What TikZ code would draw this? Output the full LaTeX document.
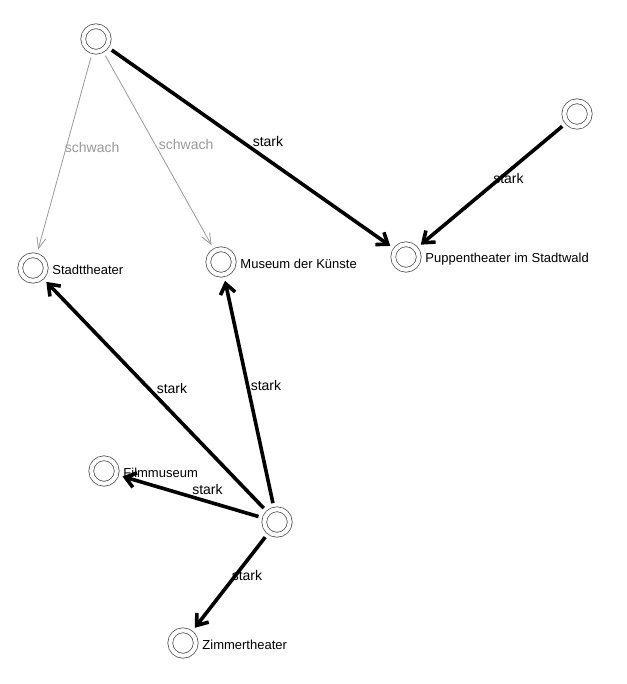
\documentclass[tikz,border=0pt]{standalone}
\usepackage{fontspec}
\setmainfont{Liberation Sans}
\usetikzlibrary{arrows.meta}
\definecolor{weakgray}{HTML}{999999}
\definecolor{ringgray}{HTML}{444444}

\begin{document}
\begin{tikzpicture}[x=1pt,y=-1pt,
  every label/.append style={inner sep=0pt,font=\fontsize{13}{15}\selectfont,yshift=-2pt},
  venue/.style={circle,draw=ringgray,double,double distance=4.1pt,line width=0.7pt,
    minimum size=25.5pt,inner sep=0pt,outer sep=6.5pt,label distance=2.5pt},
  strong/.style={line width=3.6pt,-{Straight Barb[length=10pt,width=15pt]}},
  weak/.style={line width=0.8pt,weakgray,-{Straight Barb[length=11pt,width=9pt]}},
  lbl/.style={midway,anchor=south west,inner sep=0pt,font=\fontsize{14}{16}\selectfont}]
\useasboundingbox (0,0) rectangle (626,684);

% venues
\node[venue] (top) at (96,39) {};
\node[venue] (right) at (577,114) {};
\node[venue,label=right:Stadttheater] (stadt) at (33,268) {};
\node[venue,label=right:Museum der Künste] (museum) at (221,262) {};
\node[venue,label=right:Puppentheater im Stadtwald] (puppen) at (406,257) {};
\node[venue,label=right:Filmmuseum] (film) at (104,471) {};
\node[venue] (hub) at (277,522) {};
\node[venue,label=right:Zimmertheater] (zimmer) at (183,643) {};

% weak links
\draw[weak] (top) -- node[lbl] {schwach} (stadt);
\draw[weak] (top) -- node[lbl] {schwach} (museum);

% strong links
\draw[strong] (top) -- node[lbl] {stark} (puppen);
\draw[strong] (right) -- node[lbl] {stark} (puppen);
\draw[strong] (hub) -- node[lbl] {stark} (stadt);
\draw[strong] (hub) -- node[lbl] {stark} (museum);
\draw[strong] (hub) -- node[lbl] {stark} (film);
\draw[strong] (hub) -- node[lbl] {stark} (zimmer);
\end{tikzpicture}
\end{document}
